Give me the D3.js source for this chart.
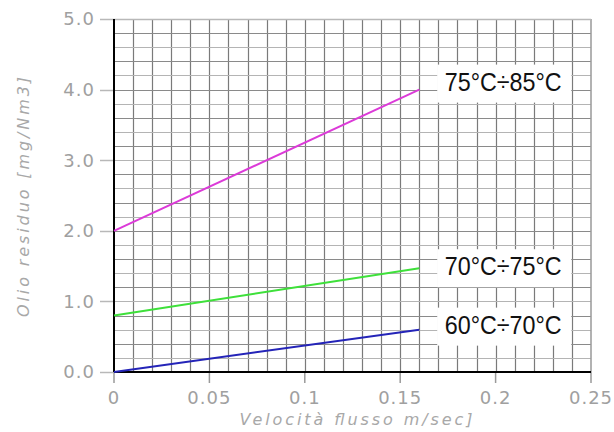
<!DOCTYPE html>
<html lang="it">
<head>
<meta charset="UTF-8">
<title>Olio residuo</title>
<script src="https://d3js.org/d3.v7.min.js"></script>
<style>
  body { margin: 0; background: #fff; }
  svg { display: block; }
  .tick-label { font-family: "DejaVu Sans", sans-serif; fill: #a0a0a0; font-size: 18px; letter-spacing: 1px; }
  .axis-title { font-family: "DejaVu Sans", sans-serif; font-style: italic; fill: #a8a8a8; font-size: 16px; }
  .serie-label { font-family: "Liberation Sans", Arial, sans-serif; fill: #111; font-size: 25px; }
</style>
</head>
<body>
<div id="chart"></div>
<script>
// dati
const speeds = [0, 0.16];                        // m/sec
const serieNames = ["75°C÷85°C", "70°C÷75°C", "60°C÷70°C"];
const serieValues = [
  [2.0, 4.0],
  [0.8, 1.47],
  [0.0, 0.6]
];
const serieColors = ["#dc3ad8", "#3ee03a", "#2424b8"];
const xTicks = [0, 0.05, 0.1, 0.15, 0.2, 0.25];
const xTickLabels = ["0", "0.05", "0.1", "0.15", "0.2", "0.25"];
const yTicks = [0, 1, 2, 3, 4, 5];
const yTickLabels = ["0.0", "1.0", "2.0", "3.0", "4.0", "5.0"];

const width = 614, height = 432;
const mLeft = 114, mRight = 591, mTop = 19, mBottom = 372;

const svg = d3.select("#chart").append("svg")
  .attr("width", width).attr("height", height);

const x = d3.scaleLinear().domain([0, 0.25]).range([mLeft, mRight]);
const y = d3.scaleLinear().domain([0, 5]).range([mBottom, mTop]);

// griglia
const grid = svg.append("g");
grid.selectAll("line.v")
  .data(d3.range(1, 25).map(i => i / 100))
  .join("line")
  .attr("x1", d => Math.round(x(d)) + 0.5).attr("x2", d => Math.round(x(d)) + 0.5)
  .attr("y1", mTop).attr("y2", mBottom)
  .attr("stroke", "#7a7a7a").attr("stroke-width", 1.2);
grid.selectAll("line.h")
  .data(d3.range(1, 25).map(i => i / 5))
  .join("line")
  .attr("x1", mLeft).attr("x2", mRight)
  .attr("y1", d => Math.round(y(d)) + 0.5).attr("y2", d => Math.round(y(d)) + 0.5)
  .attr("stroke", (d, i) => i % 2 ? "#8a8a8a" : "#b4b4b4").attr("stroke-width", 1.2);

// bordo destro
svg.append("line").attr("x1", mRight).attr("x2", mRight).attr("y1", mTop).attr("y2", mBottom)
  .attr("stroke", "#999").attr("stroke-width", 1.5);

// tacche asse y
svg.append("g").selectAll("line")
  .data(yTicks)
  .join("line")
  .attr("x1", mLeft - 14).attr("x2", d => d === 5 ? mRight : mLeft)
  .attr("y1", d => Math.round(y(d)) + 0.5).attr("y2", d => Math.round(y(d)) + 0.5)
  .attr("stroke", "#b8b8b8").attr("stroke-width", 1.5);

// tacche asse x
svg.append("g").selectAll("line")
  .data(xTicks)
  .join("line")
  .attr("x1", d => x(d)).attr("x2", d => x(d))
  .attr("y1", mBottom).attr("y2", mBottom + 11)
  .attr("stroke", "#9a9a9a").attr("stroke-width", 1.5);

// assi
svg.append("line").attr("x1", mLeft).attr("x2", mLeft).attr("y1", mTop).attr("y2", mBottom)
  .attr("stroke", "#000").attr("stroke-width", 2);
svg.append("line").attr("x1", mLeft).attr("x2", mRight).attr("y1", mBottom).attr("y2", mBottom)
  .attr("stroke", "#000").attr("stroke-width", 2);

// etichette tacche
svg.append("g").selectAll("text")
  .data(yTicks)
  .join("text")
  .attr("class", "tick-label")
  .attr("x", mLeft - 19).attr("y", d => y(d))
  .attr("dy", "0.36em").attr("text-anchor", "end")
  .text((d, i) => yTickLabels[i]);

svg.append("g").selectAll("text")
  .data(xTicks)
  .join("text")
  .attr("class", "tick-label")
  .attr("x", d => x(d)).attr("y", mBottom + 26)
  .attr("dy", "0.36em").attr("text-anchor", "middle")
  .text((d, i) => xTickLabels[i]);

// titoli assi
svg.append("text").attr("class", "axis-title")
  .attr("transform", `translate(29,197) rotate(-90)`)
  .attr("text-anchor", "middle")
  .attr("textLength", 240).attr("lengthAdjust", "spacing")
  .text("Olio  residuo  [mg/Nm3]");

svg.append("text").attr("class", "axis-title")
  .attr("x", 356).attr("y", 425)
  .attr("text-anchor", "middle")
  .attr("textLength", 233).attr("lengthAdjust", "spacing")
  .text("Velocità  flusso  m/sec]");

// linee
const line = d3.line().x((d, i) => x(speeds[i])).y(d => y(d));
svg.append("g").selectAll("path")
  .data(serieValues)
  .join("path")
  .attr("d", d => line(d))
  .attr("fill", "none")
  .attr("stroke", (d, i) => serieColors[i])
  .attr("stroke-width", 2);

// etichette serie con riquadro bianco
const labelDy = [-8, -2, -5];
const labelX = x(0.204);
serieNames.forEach((name, i) => {
  const g = svg.append("g");
  const cy = y(serieValues[i][1]) + labelDy[i];
  g.append("rect")
    .attr("x", labelX - 66).attr("y", cy - 17)
    .attr("width", 134).attr("height", 38)
    .attr("fill", "#fff");
  g.append("text")
    .attr("class", "serie-label")
    .attr("x", labelX).attr("y", cy)
    .attr("dy", "0.36em").attr("text-anchor", "middle")
    .attr("textLength", 117).attr("lengthAdjust", "spacingAndGlyphs")
    .text(name);
});
</script>
</body>
</html>
